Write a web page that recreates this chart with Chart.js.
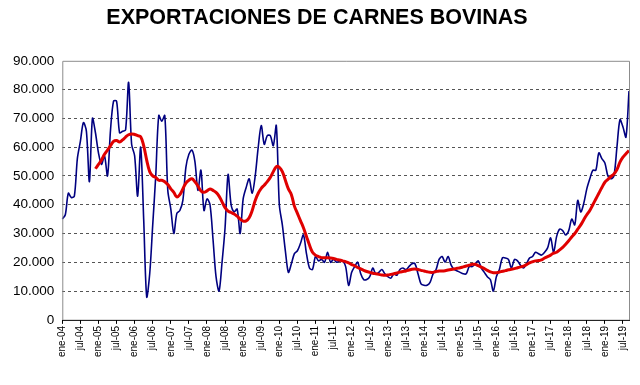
<!DOCTYPE html>
<html>
<head>
<meta charset="utf-8">
<script src="https://cdn.jsdelivr.net/npm/chart.js@4/dist/chart.umd.min.js"></script>
<style>
  html, body { margin: 0; padding: 0; background: #fff; }
  #wrap { width: 640px; height: 385px; }
</style>
</head>
<body>
<div id="wrap"><canvas id="chart" width="640" height="385"></canvas></div>
<script>
// monthly categories ene-04 .. sep-19
const meses = ['ene', 'feb', 'mar', 'abr', 'may', 'jun', 'jul', 'ago', 'sep', 'oct', 'nov', 'dic'];
const anioInicio = 2004;
const totalMeses = 189;

// exports (tons)
const exportaciones = [
  35, 36.5, 44, 42.5, 43, 56, 62, 68.5, 65.5, 48, 70, 65,
  58, 54, 57, 50, 66, 76, 76, 65, 65.5, 66, 82.5, 61,
  57, 43, 60, 35, 8, 16, 33, 50, 71, 69, 71, 45,
  38.5, 30, 37, 38, 41.5, 53, 57.5, 59, 55, 45, 52, 38,
  42, 40, 28, 15, 10, 20, 32, 50.5, 40, 37.5, 38.5, 30,
  42, 46, 49, 44, 50, 60, 67.5, 61, 64, 64, 60.5, 67.5,
  40, 33, 24, 16.5, 19.5, 23, 24, 26.5, 29.5, 23, 18, 17.5,
  22, 20.5, 21, 20, 23.5, 20, 21, 20, 20.5, 20.5, 18.5, 12,
  16.5, 18.5, 20, 16, 14, 14, 15, 18, 16, 16.5, 17.5, 16,
  15, 14.5, 16, 15.5, 17.5, 18, 17.5, 18.5, 19.5, 19.5, 16, 12.5,
  12, 12, 13, 16, 17.5, 21, 22, 20, 22, 19, 17.5, 17,
  16.5, 16, 16, 18.5, 18.5, 19.5, 20.5, 18, 16.5, 15, 14, 10,
  15, 17.5, 21.5, 21.5, 21, 18, 21, 20.5, 19, 18, 19.5, 21.5,
  22, 23.5, 23, 22.5, 23.5, 25, 28.5, 23.5, 29, 31.5, 31, 29.5,
  31, 35, 33, 41.5, 37.5, 40.5, 45.5, 49, 52, 52, 58, 56,
  54.5, 50, 49, 50, 60, 69.5, 67, 63.5, 79.5
].map(v => v * 1000);

// 12-month moving average line, starts dic-04
const promedioMovil = [
  null, null, null, null, null, null, null, null, null, null, null, 52.5,
  54, 55.5, 57.5, 59, 60.5, 62, 62.3, 61.8, 62.5, 63.5, 64.3, 64.6,
  64.4, 64, 63.6, 60.5, 55.5, 51.5, 50, 49.5, 48.5, 48.5, 48, 47,
  45.5, 44.3, 42.7, 43.5, 45.5, 47.5, 48.5, 49, 48, 46.5, 44.8, 44.3,
  44.8, 45.5, 45, 44.3, 43, 41, 39, 37.8, 37.3, 36.8, 36, 35,
  34.3, 34.4, 35.5, 38, 41.5, 44, 45.7, 46.8, 48, 49.5, 51.5, 53.2,
  53, 51.5, 48.5, 45.5, 43.5, 39.5, 37, 34.5, 32, 29, 26, 23.5,
  22.5, 22, 21.6, 21.6, 21.6, 21.5, 21.3, 21, 20.8, 20.5, 20.2, 19.8,
  19.2, 18.8, 18.2, 17.7, 17.2, 16.8, 16.5, 16.2, 16, 15.8, 15.6, 15.5,
  15.6, 15.8, 16, 16.3, 16.6, 16.8, 17, 17.3, 17.6, 17.7, 17.5, 17.2,
  17, 16.7, 16.5, 16.5, 16.8, 17, 17, 17.1, 17.3, 17.5, 17.7, 17.9,
  18.1, 18.4, 18.7, 19, 19.3, 19.3, 18.8, 18.3, 17.8, 17.2, 16.7, 16.4,
  16.4, 16.6, 16.9, 17.1, 17.4, 17.6, 17.8, 18.1, 18.4, 18.7, 19.2, 19.8,
  20.2, 20.5, 20.6, 20.8, 21.5, 22, 22.5, 23.2, 23.5, 24.3, 25.2, 26.3,
  27.5, 28.8, 30, 31.5, 33, 34.8, 36.5, 38, 40, 42, 44, 46,
  47.8, 48.8, 49.8, 50.7, 52.2, 54.8, 56.5, 57.7, 58.8
].map(v => v === null ? null : v * 1000);

const yMin = 0;
const yMax = 90000;
const yPaso = 10000;

const categorias = [];
for (let i = 0; i < totalMeses; i++) {
    const anio = anioInicio + Math.floor(i / 12);
    categorias.push(meses[i % 12] + '-' + String(anio % 100).padStart(2, '0'));
}

function formatoMiles(v) {
    return String(v).replace(/\B(?=(\d{3})+(?!\d))/g, '.');
}

// grey frame round the plot area, like the Excel original
const marcoPlugin = {
    id: 'marco',
    afterDraw(chart) {
        const { ctx, chartArea: a } = chart;
        ctx.save();
        ctx.strokeStyle = '#8c8c8c';
        ctx.lineWidth = 1;
        ctx.beginPath();
        ctx.moveTo(a.left + 0.5, a.bottom);
        ctx.lineTo(a.left + 0.5, a.top + 0.5);
        ctx.lineTo(a.right + 0.5, a.top + 0.5);
        ctx.lineTo(a.right + 0.5, a.bottom);
        ctx.stroke();
        ctx.strokeStyle = '#000';
        ctx.beginPath();
        ctx.moveTo(a.left, a.bottom + 0.5);
        ctx.lineTo(a.right + 1, a.bottom + 0.5);
        ctx.stroke();
        ctx.restore();
    }
};

const ctx = document.getElementById('chart').getContext('2d');
new Chart(ctx, {
    type: 'line',
    data: {
        labels: categorias,
        datasets: [
            {
                label: 'Promedio móvil',
                data: promedioMovil,
                borderColor: '#e00000',
                borderWidth: 3,
                pointRadius: 0,
                tension: 0.4,
                spanGaps: false,
                order: 0
            },
            {
                label: 'Exportaciones',
                data: exportaciones,
                borderColor: '#000080',
                borderWidth: 1.6,
                pointRadius: 0,
                tension: 0.3,
                order: 1
            }
        ]
    },
    options: {
        responsive: false,
        animation: false,
        layout: { padding: { left: 5, right: 11, top: 0, bottom: 26 } },
        plugins: {
            legend: { display: false },
            tooltip: { enabled: false },
            title: {
                display: true,
                text: 'EXPORTACIONES DE CARNES BOVINAS',
                color: '#000',
                font: { family: 'Liberation Sans', size: 21.5, weight: 'bold' },
                padding: { top: 5, bottom: 30 }
            }
        },
        scales: {
            x: {
                type: 'category',
                offset: false,
                border: { display: false },
                grid: {
                    drawOnChartArea: false,
                    drawTicks: true,
                    tickLength: 4,
                    color: '#000'
                },
                ticks: {
                    autoSkip: false,
                    maxRotation: 90,
                    minRotation: 90,
                    padding: 2,
                    color: '#000',
                    font: { family: 'Liberation Sans', size: 10 },
                    callback: function (value, index) {
                        return index % 6 === 0 ? this.getLabelForValue(value) : null;
                    }
                }
            },
            y: {
                min: yMin,
                max: yMax,
                border: { display: false, dash: [3, 3] },
                grid: {
                    drawTicks: false,
                    color: function (c) {
                        return (c.tick.value === yMin || c.tick.value === yMax) ? 'rgba(0,0,0,0)' : '#555';
                    },
                    lineWidth: 1
                },
                ticks: {
                    stepSize: yPaso,
                    padding: 8,
                    color: '#000',
                    font: { family: 'Liberation Sans', size: 13.5 },
                    callback: v => formatoMiles(v)
                }
            }
        }
    },
    plugins: [marcoPlugin]
});
</script>
</body>
</html>
